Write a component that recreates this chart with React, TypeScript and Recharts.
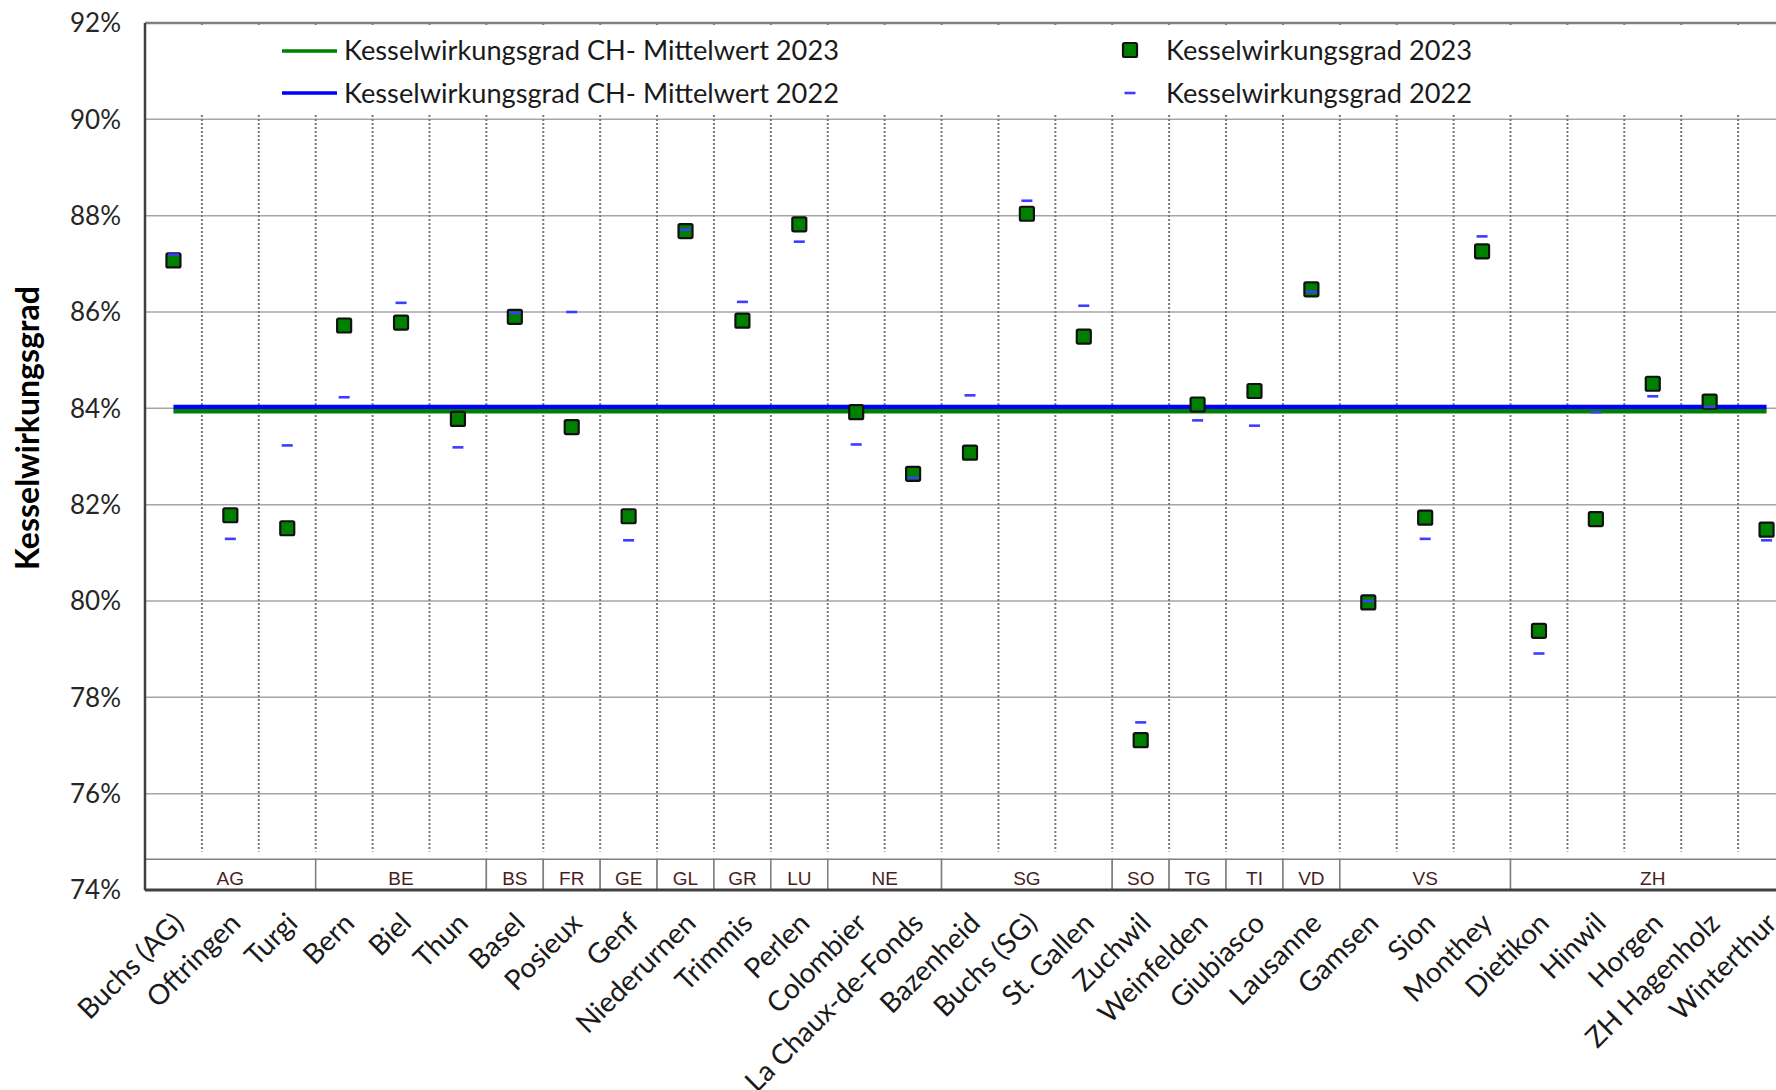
import {
  ComposedChart,
  Line,
  Scatter,
  XAxis,
  YAxis,
  CartesianGrid,
  ReferenceLine,
  ReferenceArea,
  Legend,
} from 'recharts';

const plants = [
  'Buchs (AG)', 'Oftringen', 'Turgi', 'Bern', 'Biel', 'Thun', 'Basel', 'Posieux', 'Genf',
  'Niederurnen', 'Trimmis', 'Perlen', 'Colombier', 'La Chaux-de-Fonds', 'Bazenheid',
  'Buchs (SG)', 'St. Gallen', 'Zuchwil', 'Weinfelden', 'Giubiasco', 'Lausanne', 'Gamsen',
  'Sion', 'Monthey', 'Dietikon', 'Hinwil', 'Horgen', 'ZH Hagenholz', 'Winterthur',
];

const cantons = ['AG', 'BE', 'BS', 'FR', 'GE', 'GL', 'GR', 'LU', 'NE', 'SG', 'SO', 'TG', 'TI', 'VD', 'VS', 'ZH'];
const cantonSizes = [3, 3, 1, 1, 1, 1, 1, 1, 2, 3, 1, 1, 1, 1, 3, 5];

const eff2023 = [
  87.07, 81.78, 81.51, 85.72, 85.78, 83.78, 85.9, 83.61, 81.76, 87.68, 85.82, 87.82, 83.92,
  82.64, 83.08, 88.04, 85.49, 77.11, 84.08, 84.36, 86.47, 79.97, 81.73, 87.26, 79.38, 81.7,
  84.51, 84.14, 81.48,
];
const eff2022 = [
  87.19, 81.29, 83.23, 84.23, 86.19, 83.19, 85.98, 86.0, 81.26, 87.71, 86.21, 87.46, 83.25,
  82.56, 84.27, 88.31, 86.13, 77.48, 83.75, 83.64, 86.42, 80.0, 81.29, 87.57, 78.91, 83.92,
  84.25, 84.03, 81.26,
];
const mean2023 = 83.94;
const mean2022 = 84.03;

const yTicks = [74, 76, 78, 80, 82, 84, 86, 88, 90, 92];

const data = plants.map((name, i) => ({
  pos: i + 0.5,
  name,
  v23: eff2023[i],
  v22: eff2022[i],
  m23: mean2023,
  m22: mean2022,
}));

const positions = data.map((d) => d.pos);

// canton boxes below the plot: start/end in category units
const groups = cantons.map((c, i) => {
  const start = cantonSizes.slice(0, i).reduce((a, b) => a + b, 0);
  return { label: c, start, end: start + cantonSizes[i] };
});

const FONT = 'Lato, "Open Sans", sans-serif';

const SquareMark = (props: any) => {
  const { cx, cy } = props;
  if (cx == null || cy == null) return null;
  return (
    <rect x={cx - 7} y={cy - 7} width={14} height={14} rx={1.5} fill="#008000" stroke="#111" strokeWidth={2.2} />
  );
};

const DashMark = (props: any) => {
  const { cx, cy } = props;
  if (cx == null || cy == null) return null;
  return <rect x={cx - 5.5} y={cy - 1.3} width={11} height={2.6} fill="#3d3dff" />;
};

const PlantTick = (props: any) => {
  const { x, y, payload } = props;
  const ax = x + 5;
  const ay = y + 20;
  return (
    <text
      x={ax}
      y={ay}
      dy="0.35em"
      textAnchor="end"
      transform={`rotate(-45, ${ax}, ${ay})`}
      fontSize={28}
      fontFamily={FONT}
      fill="#1a1a1a"
    >
      {plants[Math.floor(payload.value)]}
    </text>
  );
};

const LegendBox = () => (
  <svg width={1640} height={88} style={{ display: 'block' }}>
    <line x1={135} x2={190} y1={25} y2={25} stroke="#008000" strokeWidth={3.5} />
    <text x={197} y={24} dy="0.35em" fontSize={27.2} fontFamily={FONT} fill="#1a1a1a">
      Kesselwirkungsgrad CH- Mittelwert 2023
    </text>
    <line x1={135} x2={190} y1={67} y2={67} stroke="#0000ff" strokeWidth={3.5} />
    <text x={197} y={67} dy="0.35em" fontSize={27.2} fontFamily={FONT} fill="#1a1a1a">
      Kesselwirkungsgrad CH- Mittelwert 2022
    </text>
    <rect x={976} y={17} width={14} height={14} rx={1.5} fill="#008000" stroke="#111" strokeWidth={2.2} />
    <text x={1019} y={24} dy="0.35em" fontSize={27.2} fontFamily={FONT} fill="#1a1a1a">
      Kesselwirkungsgrad 2023
    </text>
    <rect x={977.5} y={65.7} width={11} height={2.6} fill="#3d3dff" />
    <text x={1019} y={67} dy="0.35em" fontSize={27.2} fontFamily={FONT} fill="#1a1a1a">
      Kesselwirkungsgrad 2022
    </text>
  </svg>
);

export default function App() {
  return (
    <div
      style={{
        position: 'fixed',
        left: 0,
        top: 0,
        width: 1776,
        height: 1090,
        overflow: 'hidden',
        background: '#fff',
      }}
    >
      <ComposedChart width={1800} height={1090} data={data} margin={{ top: 23, right: 5, left: 0, bottom: 0 }}>
        <CartesianGrid vertical={false} stroke="#a6a6a6" strokeWidth={1.5} />
        <XAxis
          dataKey="pos"
          type="number"
          domain={[0, 29]}
          ticks={positions}
          interval={0}
          axisLine={false}
          tickLine={false}
          height={200}
          tick={(p: any) => <PlantTick {...p} />}
        />
        <YAxis
          type="number"
          domain={[74, 92]}
          ticks={yTicks}
          width={145}
          tickFormatter={(v) => `${v}%`}
          axisLine={{ stroke: '#404040', strokeWidth: 2.5 }}
          tickLine={false}
          tickSize={0}
          tickMargin={24}
          tick={{ fontSize: 26, fill: '#262626', fontFamily: FONT }}
          label={{
            content: () => (
              <text
                x={28}
                y={428}
                transform="rotate(-90, 28, 428)"
                textAnchor="middle"
                dy="0.35em"
                fontSize={32}
                fontWeight="bold"
                fontFamily={FONT}
                fill="#000"
              >
                Kesselwirkungsgrad
              </text>
            ),
          }}
        />
        {positions.slice(1).map((_, i) => (
          <ReferenceLine
            key={`sep-${i}`}
            segment={[
              { x: i + 1, y: 92 },
              { x: i + 1, y: 74.8 },
            ]}
            stroke="#7a7a7a"
            strokeWidth={2}
            strokeDasharray="2 2"
          />
        ))}
        <ReferenceLine y={92} stroke="#7f7f7f" strokeWidth={2.5} />
        {groups.map((g) => (
          <ReferenceArea
            key={g.label}
            x1={g.start}
            x2={g.end}
            y1={74}
            y2={74.64}
            fill="#fff"
            fillOpacity={1}
            stroke="#7f7f7f"
            strokeWidth={1.5}
            label={{
              value: g.label,
              position: 'center',
              dy: 4,
              fill: '#4a1d1d',
              fontSize: 19,
              fontFamily: '"Liberation Sans", Arial, sans-serif',
            }}
          />
        ))}
        <ReferenceLine y={74} stroke="#404040" strokeWidth={3} />
        <Line dataKey="m22" stroke="#0000ff" strokeWidth={4.5} dot={false} activeDot={false} isAnimationActive={false} />
        <Line dataKey="m23" stroke="#008000" strokeWidth={4.5} dot={false} activeDot={false} isAnimationActive={false} />
        <Scatter dataKey="v23" shape={SquareMark} isAnimationActive={false} />
        <Scatter dataKey="v22" shape={DashMark} isAnimationActive={false} />
        <Legend
          layout="horizontal"
          verticalAlign="middle"
          align="center"
          content={() => <LegendBox />}
          wrapperStyle={{ left: 147, top: 26, width: 1640, height: 88, background: '#fff' }}
        />
      </ComposedChart>
    </div>
  );
}
